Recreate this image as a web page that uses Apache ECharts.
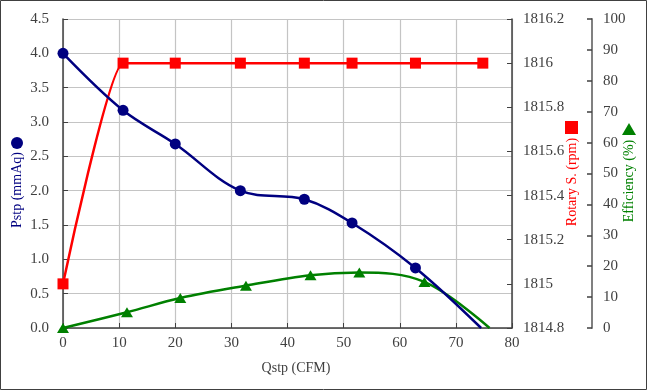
<!DOCTYPE html>
<html>
<head>
<meta charset="utf-8">
<script src="https://cdn.jsdelivr.net/npm/echarts@6/dist/echarts.min.js"></script>
<style>
html,body{margin:0;padding:0;background:#fff;}
#chart{width:647px;height:390px;}
</style>
</head>
<body>
<div id="chart"></div>
<script>
// ---- data ----
var pstpX = [0, 10.7, 20.0, 31.6, 43.0, 51.5, 62.8, 74.5];
var pstpY = [4.0, 3.17, 2.68, 2.00, 1.875, 1.53, 0.875, 0];
var rpmX = [0, 10.7, 20.0, 31.6, 43.0, 51.5, 62.8, 74.8];
var rpmY = [1815, 1816, 1816, 1816, 1816, 1816, 1816, 1816];
var effX = [0, 11.4, 20.9, 32.6, 44.1, 52.8, 64.4, 76.0];
var effY = [0, 5.1, 9.7, 13.7, 17.1, 18.0, 14.9, 0];
var markerless = {pstp: [7], eff: [7]};   // index of end points drawn without marker
var xTitle = 'Qstp (CFM)';
var pstpTitle = 'Pstp (mmAq)';
var rpmTitle = 'Rotary S. (rpm)';
var effTitle = 'Efficiency (%)';

function pairs(xs, ys, hide) {
  return xs.map(function (x, i) {
    var d = {value: [x, ys[i]]};
    if (hide && hide.indexOf(i) >= 0) d.symbolSize = 0;
    return d;
  });
}

var FONT = 'Liberation Serif';
var LBL = {fontFamily: FONT, fontSize: 15, color: '#404040'};
var chart = echarts.init(document.getElementById('chart'), null, {renderer: 'canvas'});

var option = {
  animation: false,
  backgroundColor: '#fff',
  grid: {left: 63, right: 135, top: 19, bottom: 62, containLabel: false},
  xAxis: {
    type: 'value', min: 0, max: 80, interval: 10,
    axisLine: {show: true, onZero: false, lineStyle: {color: '#404040', width: 1.5}},
    axisTick: {show: true, inside: true, length: 5, lineStyle: {color: '#404040'}},
    axisLabel: Object.assign({margin: 8}, LBL),
    splitLine: {show: true, lineStyle: {color: '#c4c4c4', width: 1.2}}
  },
  yAxis: [
    {
      type: 'value', min: 0, max: 4.5, interval: 0.5, position: 'left',
      axisLine: {show: true, onZero: false, lineStyle: {color: '#404040', width: 1.5}},
      axisTick: {show: true, inside: true, length: 5, lineStyle: {color: '#404040'}},
      axisLabel: Object.assign({margin: 14, formatter: function (v) { return v.toFixed(1); }}, LBL),
      splitLine: {show: true, lineStyle: {color: '#c4c4c4', width: 1.2}}
    },
    {
      type: 'value', min: 1814.8, max: 1816.2, interval: 0.2, position: 'right',
      axisLine: {show: true, onZero: false, lineStyle: {color: '#404040', width: 1.5}},
      axisTick: {show: true, inside: true, length: 5, lineStyle: {color: '#404040'}},
      axisLabel: Object.assign({margin: 11, formatter: function (v) { return String(+v.toFixed(1)); }}, LBL),
      splitLine: {show: false}
    },
    {
      type: 'value', min: 0, max: 100, interval: 10, position: 'right', offset: 80,
      axisLine: {show: true, onZero: false, lineStyle: {color: '#808080', width: 2}},
      axisTick: {show: true, inside: true, length: 5, lineStyle: {color: '#404040', width: 1.5}},
      axisLabel: Object.assign({margin: 11}, LBL),
      splitLine: {show: false}
    }
  ],
  series: [
    {
      name: 'Pstp', type: 'line', yAxisIndex: 0, smooth: 0.35,
      data: pairs(pstpX, pstpY, markerless.pstp),
      symbol: 'circle', symbolSize: 11,
      lineStyle: {color: '#000080', width: 2.5},
      itemStyle: {color: '#000080'}, z: 3
    },
    {
      name: 'Rotary', type: 'line', yAxisIndex: 1, smooth: 0.15,
      data: pairs(rpmX, rpmY),
      symbol: 'rect', symbolSize: 11,
      lineStyle: {color: '#ff0000', width: 2.5},
      itemStyle: {color: '#ff0000'}, z: 2
    },
    {
      name: 'Efficiency', type: 'line', yAxisIndex: 2, smooth: 0.35,
      data: pairs(effX, effY, markerless.eff),
      symbol: 'triangle', symbolSize: [12, 10],
      lineStyle: {color: '#008000', width: 2.5},
      itemStyle: {color: '#008000'}, z: 2
    }
  ],
  graphic: [
    {type: 'rect', shape: {x: 0.5, y: 0.5, width: 646, height: 389}, style: {fill: null, stroke: '#404040', lineWidth: 1}, silent: true},
    {type: 'text', x: 296, y: 368, style: {text: xTitle, font: '14px "' + FONT + '"', fill: '#404040', align: 'center', verticalAlign: 'middle'}},
    {type: 'circle', shape: {cx: 17, cy: 143, r: 6}, style: {fill: '#000080'}},
    {type: 'text', x: 17, y: 190, rotation: Math.PI / 2, style: {text: pstpTitle, font: '14px "' + FONT + '"', fill: '#000080', align: 'center', verticalAlign: 'middle'}},
    {type: 'rect', shape: {x: 565, y: 121, width: 13, height: 13}, style: {fill: '#ff0000'}},
    {type: 'text', x: 572, y: 182, rotation: Math.PI / 2, style: {text: rpmTitle, font: '14px "' + FONT + '"', fill: '#ff0000', align: 'center', verticalAlign: 'middle'}},
    {type: 'polygon', shape: {points: [[629, 123], [636, 135], [622, 135]]}, style: {fill: '#008000'}},
    {type: 'text', x: 629, y: 181, rotation: Math.PI / 2, style: {text: effTitle, font: '14px "' + FONT + '"', fill: '#008000', align: 'center', verticalAlign: 'middle'}}
  ]
};
chart.setOption(option);
</script>
</body>
</html>
